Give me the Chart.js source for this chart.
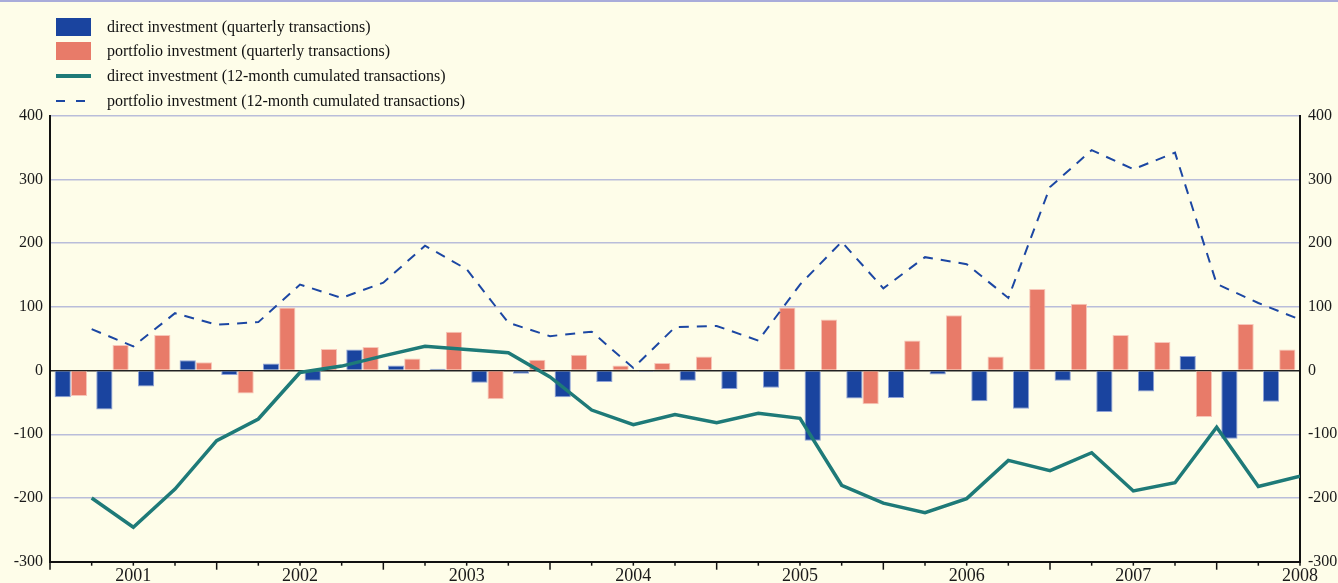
<!DOCTYPE html>
<html>
<head>
<meta charset="utf-8">
<script src="https://cdn.jsdelivr.net/npm/chart.js@4/dist/chart.umd.min.js"></script>
<style>
    html, body {
        margin: 0;
        padding: 0;
        background: #fefde9;
    }
    #wrap {
        position: relative;
        width: 1338px;
        height: 583px;
        background: #fefde9;
        border-top: 2px solid #a9acda;
        box-sizing: border-box;
        font-family: "Liberation Serif", "DejaVu Serif", serif;
    }
    #chart {
        position: absolute;
        left: 0;
        top: -2px;
    }
    #legend {
        position: absolute;
        left: 0;
        top: 0;
    }
    .legend-row {
        position: absolute;
        left: 56px;
        height: 25px;
        display: flex;
        align-items: center;
        white-space: nowrap;
        font-size: 16px;
        color: #111;
    }
    .swatch {
        width: 35px;
        margin-right: 16px;
    }
</style>
</head>
<body>
<div id="wrap">
    <canvas id="chart" width="1338" height="583"></canvas>
    <div id="legend"></div>
</div>
<script>
// Quarterly transactions, 30 quarters, in the axis order
const yearLabels = ['2001', '2002', '2003', '2004', '2005', '2006', '2007', '2008'];

const directQuarterly = [-42, -61, -25, 16, -7, 11, -16, 33, 8, 3, -19, -5, -42, -18, -2,
    -16, -29, -27, -110, -44, -43, -6, -48, -60, -16, -65, -33, 23, -107, -49];
const portfolioQuarterly = [-40, 40, 56, 13, -36, 99, 34, 37, 19, 61, -45, 17, 25, 8, 12,
    22, -1, 99, 80, -53, 47, 87, 22, 128, 105, 56, 45, -73, 73, 33];

// 12-month cumulated flows, one value at the end of each quarter
const direct12m = [-200, -246, -186, -110, -76, -3, 7, 23, 38, 33, 28, -10, -62, -85, -69,
    -82, -67, -75, -180, -208, -223, -201, -141, -157, -129, -189, -176, -89, -182, -166];
const portfolio12m = [65, 38, 90, 72, 76, 135, 114, 138, 196, 159, 75, 54, 61, 4, 68,
    70, 47, 135, 202, 129, 178, 167, 114, 288, 346, 316, 342, 136, 106, 80];

const quarterCount = directQuarterly.length;

// bars sit in the middle of their quarter, lines at its end
const barPoints = values => values.map((v, i) => ({ x: i + 0.5, y: v }));
const endPoints = values => values.map((v, i) => ({ x: i + 1, y: v }));

const colors = {
    direct: '#1a449f',
    directEdge: '#8fa2d8',
    portfolio: '#e87b69',
    portfolioEdge: '#f7c6b8',
    directLine: '#1e7a78',
    portfolioLine: '#1c47a3'
};

// small tick marks under the time axis: long ones every 4 quarters
const quarterTicks = {
    id: 'quarterTicks',
    afterDraw(chart) {
        const xs = chart.scales.x;
        const ctx = chart.ctx;
        ctx.save();
        ctx.strokeStyle = '#111';
        ctx.lineWidth = 1.5;
        for (let q = 0; q <= quarterCount; q++) {
            const px = xs.getPixelForValue(q);
            const len = q % 4 === 0 ? 8 : 4;
            ctx.beginPath();
            ctx.moveTo(px, xs.top);
            ctx.lineTo(px, xs.top + len);
            ctx.stroke();
        }
        ctx.restore();
    }
};

const yAxisBase = {
    min: -300,
    max: 400,
    border: { display: true, color: '#111', width: 2 },
    ticks: {
        stepSize: 100,
        padding: 7,
        color: '#1a1a1a',
        font: { family: '"Liberation Serif", serif', size: 16 }
    }
};

const ctx = document.getElementById('chart').getContext('2d');
const chart = new Chart(ctx, {
    type: 'bar',
    data: {
        datasets: [
            {
                label: 'direct investment (quarterly transactions)',
                data: barPoints(directQuarterly),
                backgroundColor: colors.direct,
                borderColor: colors.directEdge,
                borderWidth: 1,
                order: 1
            },
            {
                label: 'portfolio investment (quarterly transactions)',
                data: barPoints(portfolioQuarterly),
                backgroundColor: colors.portfolio,
                borderColor: colors.portfolioEdge,
                borderWidth: 1,
                order: 1
            },
            {
                type: 'line',
                label: 'direct investment (12-month cumulated transactions)',
                data: endPoints(direct12m),
                borderColor: colors.directLine,
                borderWidth: 3.5,
                pointRadius: 0,
                tension: 0,
                order: 0
            },
            {
                type: 'line',
                label: 'portfolio investment (12-month cumulated transactions)',
                data: endPoints(portfolio12m),
                borderColor: colors.portfolioLine,
                borderWidth: 2,
                borderDash: [10, 8],
                pointRadius: 0,
                tension: 0,
                order: 0
            }
        ]
    },
    options: {
        responsive: false,
        animation: false,
        layout: { padding: { top: 115.7, left: 0, right: 0, bottom: 0 } },
        datasets: {
            bar: {
                categoryPercentage: 0.78,
                barPercentage: 1.0
            }
        },
        scales: {
            x: {
                type: 'linear',
                min: 0,
                max: quarterCount,
                offset: false,
                grid: { drawOnChartArea: false, drawTicks: false },
                border: { display: true, color: '#111', width: 2 },
                afterBuildTicks: scale => {
                    scale.ticks = yearLabels.map((y, i) => ({ value: 2 + 4 * i }));
                },
                afterFit: scale => { scale.height = 21.3; },
                ticks: {
                    autoSkip: false,
                    maxRotation: 0,
                    padding: 4,
                    color: '#1a1a1a',
                    font: { family: '"Liberation Serif", serif', size: 18 },
                    callback: value => yearLabels[(value - 2) / 4]
                }
            },
            y: {
                ...yAxisBase,
                position: 'left',
                afterFit: scale => { scale.width = 50; },
                grid: {
                    drawTicks: false,
                    lineWidth: 1.5,
                    color: c => {
                        if (c.tick && c.tick.value === 0) return '#222';
                        if (c.tick && c.tick.value === -300) return 'rgba(0,0,0,0)';
                        return '#b9bdda';
                    }
                }
            },
            y2: {
                ...yAxisBase,
                position: 'right',
                afterFit: scale => { scale.width = 38; },
                grid: { drawOnChartArea: false, drawTicks: false },
                ticks: { ...yAxisBase.ticks, padding: 8 }
            }
        },
        plugins: {
            legend: { display: false },
            tooltip: { enabled: false }
        }
    },
    plugins: [quarterTicks]
});

// legend stacked in one column above the plot
function buildLegend() {
    const legend = document.getElementById('legend');
    chart.data.datasets.forEach((ds, i) => {
        const row = document.createElement('div');
        row.className = 'legend-row';
        row.style.top = (12 + i * 24.8) + 'px';

        const sw = document.createElement('div');
        sw.className = 'swatch';
        if (ds.type === 'line' && ds.borderDash) {
            sw.style.height = '2px';
            sw.style.background = `repeating-linear-gradient(to right, ${ds.borderColor} 0 9px, transparent 9px 20px)`;
        } else if (ds.type === 'line') {
            sw.style.height = '4px';
            sw.style.background = ds.borderColor;
        } else {
            sw.style.height = '18px';
            sw.style.background = ds.backgroundColor;
        }

        const text = document.createElement('span');
        text.textContent = ds.label;

        row.appendChild(sw);
        row.appendChild(text);
        legend.appendChild(row);
    });
}

buildLegend();
</script>
</body>
</html>
